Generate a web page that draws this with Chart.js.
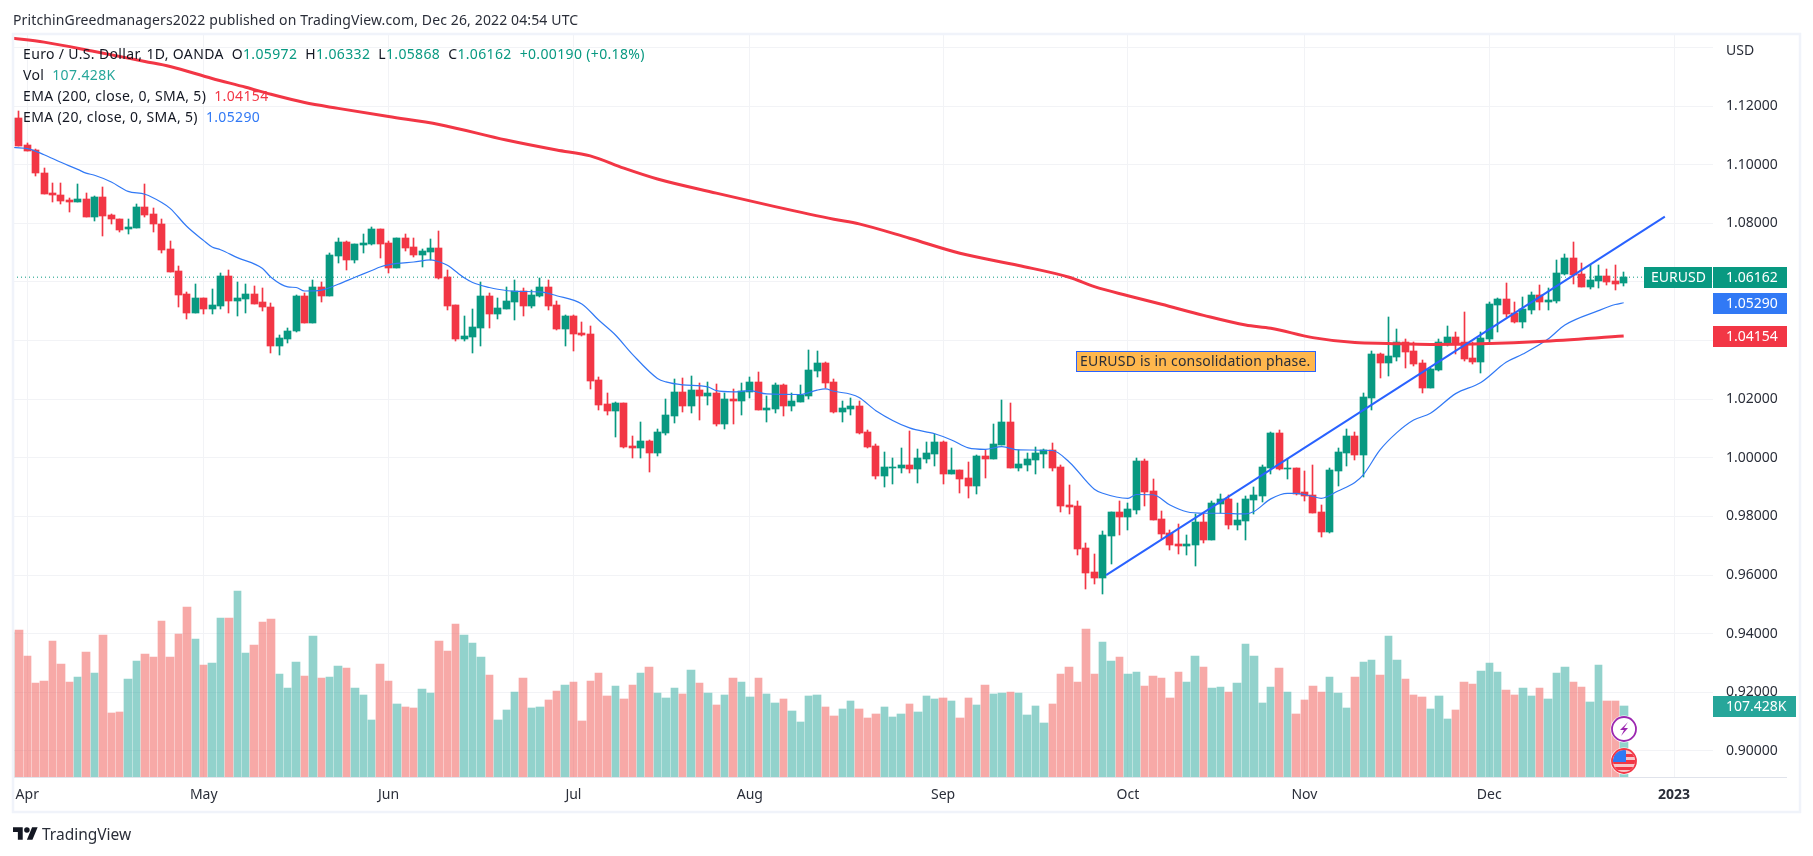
<!DOCTYPE html>
<html>
<head>
<meta charset="utf-8">
<title>EURUSD</title>
<script src="https://cdn.jsdelivr.net/npm/chart.js@4/dist/chart.umd.min.js"></script>
<style>
  html, body { margin: 0; padding: 0; background: #fff; width: 1813px; height: 856px; overflow: hidden; }
  body { font-family: "Noto Sans", sans-serif; font-size: 14px; color: #131722; position: relative; }
  #grafico { position: absolute; left: 0; top: 0; }
  .linha { position: absolute; white-space: nowrap; height: 21px; line-height: 21px; letter-spacing: 0.35px; }
  #titulo { left: 13px; top: 9px; color: #2a2e39; letter-spacing: 0.13px; }
  #rodape { left: 42px; top: 824px; font-size: 15.5px; color: #2a2e39; letter-spacing: 0; }
  #logo { position: absolute; left: 13px; top: 827px; }
  .verde { color: #089981; }
  .vol { color: #26a69a; }
  .vermelho { color: #f23645; }
  .azul { color: #3179f5; }
  .gap { margin-left: 8px; }
</style>
</head>
<body>
<canvas id="grafico" width="1813" height="856"></canvas>
<div class="linha" id="titulo">PritchinGreedmanagers2022 published on TradingView.com, Dec 26, 2022 04:54 UTC</div>
<div class="linha" style="left:23px;top:43px">Euro / U.S. Dollar, 1D, OANDA<span class="gap">O</span><span class="verde">1.05972</span><span class="gap">H</span><span class="verde">1.06332</span><span class="gap">L</span><span class="verde">1.05868</span><span class="gap">C</span><span class="verde">1.06162</span><span class="verde gap">+0.00190 (+0.18%)</span></div>
<div class="linha" style="left:23px;top:64px">Vol<span class="vol gap">107.428K</span></div>
<div class="linha" style="left:23px;top:85px">EMA (200, close, 0, SMA, 5)<span class="vermelho gap">1.04154</span></div>
<div class="linha" style="left:23px;top:106px">EMA (20, close, 0, SMA, 5)<span class="azul gap">1.05290</span></div>
<svg id="logo" width="25" height="13" viewBox="0 4 36 18"><path fill="#131722" d="M14 22H7V11H0V4h14v18zM28 22h-8l7.5-18h8L28 22z"/><circle fill="#131722" cx="20" cy="8" r="4"/></svg>
<div class="linha" id="rodape">TradingView</div>

<script>
const opens = [
  1.1082,1.1158,1.1066,1.1050,1.0972,1.0904,1.0897,1.0880,1.0874,1.0883,
  1.0823,1.0890,1.0827,1.0814,1.0779,1.0785,1.0856,1.0832,1.0798,1.0713,
  1.0638,1.0559,1.0495,1.0545,1.0506,1.0519,1.0621,1.0536,1.0543,1.0559,
  1.0530,1.0515,1.0380,1.0407,1.0431,1.0552,1.0461,1.0583,1.0553,1.0690,
  1.0737,1.0676,1.0726,1.0731,1.0781,1.0733,1.0649,1.0750,1.0719,1.0692,
  1.0702,1.0716,1.0617,1.0522,1.0406,1.0412,1.0443,1.0552,1.0491,1.0508,
  1.0532,1.0569,1.0518,1.0552,1.0583,1.0522,1.0440,1.0484,1.0426,1.0423,
  1.0266,1.0184,1.0160,1.0187,1.0041,1.0034,1.0058,1.0017,1.0085,1.0143,
  1.0225,1.0177,1.0232,1.0211,1.0221,1.0116,1.0201,1.0194,1.0225,1.0259,
  1.0163,1.0167,1.0249,1.0177,1.0191,1.0211,1.0297,1.0324,1.0259,1.0157,
  1.0167,1.0177,1.0088,1.0041,0.9938,0.9966,0.9966,0.9976,0.9962,0.9996,
  1.0013,1.0054,0.9945,0.9959,0.9932,0.9904,1.0007,0.9996,1.0044,1.0123,
  0.9966,0.9976,0.9993,1.0013,1.0027,0.9969,0.9839,0.9836,0.9693,0.9611,
  0.9590,0.9734,0.9816,0.9798,0.9822,0.9990,0.9887,0.9792,0.9744,0.9706,
  0.9700,0.9703,0.9781,0.9720,0.9843,0.9860,0.9771,0.9785,0.9857,0.9870,
  0.9966,1.0085,0.9962,0.9966,0.9884,0.9874,0.9816,0.9747,0.9955,1.0017,
  1.0075,1.0010,1.0204,1.0354,1.0324,1.0344,1.0395,1.0365,1.0324,1.0238,
  1.0300,1.0389,1.0412,1.0395,1.0341,1.0327,1.0406,1.0522,1.0542,1.0494,
  1.0464,1.0505,1.0556,1.0533,1.0535,1.0627,1.0682,1.0627,1.0583,1.0604,
  1.0621,1.0604,1.05972
];
const closes = [
  1.1158,1.1065,1.1048,1.0970,1.0901,1.0895,1.0876,1.0873,1.0883,1.0823,
  1.0890,1.0826,1.0813,1.0777,1.0788,1.0856,1.0830,1.0796,1.0710,1.0635,
  1.0557,1.0495,1.0545,1.0506,1.0522,1.0621,1.0536,1.0545,1.0559,1.0526,
  1.0513,1.0380,1.0409,1.0433,1.0552,1.0461,1.0583,1.0552,1.0692,1.0737,
  1.0676,1.0731,1.0733,1.0781,1.0731,1.0649,1.0750,1.0717,1.0693,1.0706,
  1.0716,1.0614,1.0518,1.0406,1.0416,1.0447,1.0552,1.0491,1.0511,1.0535,
  1.0569,1.0518,1.0556,1.0583,1.0518,1.0440,1.0484,1.0423,1.0419,1.0262,
  1.0181,1.0160,1.0187,1.0037,1.0034,1.0058,1.0017,1.0088,1.0146,1.0225,
  1.0177,1.0232,1.0211,1.0221,1.0116,1.0201,1.0194,1.0228,1.0259,1.0163,
  1.0170,1.0249,1.0177,1.0194,1.0215,1.0300,1.0324,1.0256,1.0157,1.0170,
  1.0177,1.0085,1.0037,0.9938,0.9969,0.9969,0.9976,0.9962,1.0000,1.0017,
  1.0054,0.9945,0.9959,0.9928,0.9904,1.0007,0.9996,1.0047,1.0123,0.9966,
  0.9979,0.9996,1.0017,1.0027,0.9966,0.9836,0.9833,0.9689,0.9607,0.9590,
  0.9737,0.9816,0.9798,0.9826,0.9990,0.9884,0.9788,0.9741,0.9703,0.9700,
  0.9706,0.9781,0.9720,0.9846,0.9860,0.9771,0.9788,0.9860,0.9874,0.9969,
  1.0085,0.9962,0.9966,0.9877,0.9870,0.9812,0.9747,0.9959,1.0020,1.0075,
  1.0010,1.0208,1.0354,1.0324,1.0348,1.0395,1.0361,1.0320,1.0238,1.0303,
  1.0395,1.0412,1.0389,1.0337,1.0327,1.0409,1.0525,1.0542,1.0491,1.0464,
  1.0508,1.0556,1.0532,1.0539,1.0631,1.0682,1.0624,1.0583,1.0607,1.0621,
  1.0600,1.0593,1.06162
];
const highs = [
  1.1175,1.1183,1.1073,1.1054,1.0988,1.0938,1.0938,1.0888,1.0934,1.0904,
  1.0892,1.0924,1.0831,1.0816,1.0815,1.0866,1.0934,1.0851,1.0815,1.0740,
  1.0655,1.0564,1.0593,1.0545,1.0576,1.0630,1.0640,1.0600,1.0593,1.0586,
  1.0580,1.0528,1.0419,1.0442,1.0556,1.0561,1.0606,1.0600,1.0697,1.0750,
  1.0740,1.0731,1.0764,1.0787,1.0781,1.0740,1.0750,1.0764,1.0750,1.0713,
  1.0747,1.0774,1.0641,1.0522,1.0484,1.0508,1.0599,1.0563,1.0545,1.0583,
  1.0607,1.0580,1.0573,1.0614,1.0607,1.0535,1.0488,1.0488,1.0464,1.0450,
  1.0276,1.0221,1.0191,1.0187,1.0075,1.0123,1.0061,1.0099,1.0201,1.0269,
  1.0273,1.0279,1.0256,1.0259,1.0252,1.0221,1.0235,1.0256,1.0276,1.0293,
  1.0211,1.0256,1.0252,1.0221,1.0249,1.0368,1.0365,1.0327,1.0269,1.0194,
  1.0204,1.0194,1.0095,1.0047,1.0020,1.0000,1.0034,1.0092,1.0031,1.0054,
  1.0082,1.0058,1.0034,0.9959,0.9986,1.0010,1.0027,1.0116,1.0198,1.0187,
  1.0027,1.0017,1.0037,1.0031,1.0051,0.9976,0.9908,0.9853,0.9710,0.9672,
  0.9751,0.9816,0.9853,0.9846,1.0000,0.9996,0.9928,0.9819,0.9754,0.9775,
  0.9737,0.9809,0.9809,0.9853,0.9877,0.9874,0.9846,0.9870,0.9901,0.9976,
  1.0088,1.0095,0.9996,0.9966,0.9955,0.9976,0.9839,0.9966,1.0034,1.0099,
  1.0088,1.0221,1.0365,1.0358,1.0481,1.0440,1.0406,1.0395,1.0334,1.0307,
  1.0406,1.0450,1.0430,1.0498,1.0395,1.0430,1.0532,1.0545,1.0597,1.0532,
  1.0549,1.0566,1.0590,1.0580,1.0675,1.0696,1.0737,1.0665,1.0658,1.0658,
  1.0644,1.0658,1.06332
];
const lows = [
  1.1075,1.1062,1.1045,1.0963,1.0900,1.0874,1.0865,1.0837,1.0873,1.0823,
  1.0809,1.0758,1.0799,1.0772,1.0762,1.0784,1.0823,1.0772,1.0697,1.0634,
  1.0516,1.0472,1.0493,1.0492,1.0492,1.0506,1.0495,1.0485,1.0495,1.0526,
  1.0502,1.0356,1.0352,1.0390,1.0430,1.0461,1.0461,1.0533,1.0552,1.0663,
  1.0642,1.0663,1.0697,1.0727,1.0680,1.0629,1.0646,1.0704,1.0686,1.0651,
  1.0675,1.0610,1.0505,1.0399,1.0399,1.0358,1.0382,1.0443,1.0474,1.0508,
  1.0470,1.0484,1.0511,1.0549,1.0505,1.0436,1.0382,1.0365,1.0416,1.0235,
  1.0163,1.0146,1.0071,1.0034,1.0000,1.0000,0.9952,1.0007,1.0078,1.0119,
  1.0157,1.0153,1.0129,1.0181,1.0109,1.0099,1.0116,1.0146,1.0204,1.0163,
  1.0123,1.0153,1.0143,1.0160,1.0191,1.0201,1.0276,1.0238,1.0153,1.0123,
  1.0146,1.0082,1.0034,0.9928,0.9901,0.9911,0.9949,0.9949,0.9914,0.9983,
  0.9972,0.9911,0.9945,0.9880,0.9863,0.9877,0.9932,0.9996,1.0044,0.9966,
  0.9955,0.9955,0.9945,0.9966,0.9955,0.9816,0.9809,0.9669,0.9553,0.9570,
  0.9536,0.9638,0.9737,0.9754,0.9809,0.9836,0.9788,0.9723,0.9686,0.9672,
  0.9669,0.9631,0.9710,0.9720,0.9812,0.9758,0.9754,0.9720,0.9809,0.9850,
  0.9945,0.9959,0.9928,0.9874,0.9853,0.9812,0.9730,0.9744,0.9904,0.9972,
  0.9993,0.9935,1.0163,1.0273,1.0279,1.0331,1.0307,1.0314,1.0221,1.0238,
  1.0297,1.0382,1.0354,1.0331,1.0320,1.0290,1.0392,1.0430,1.0481,1.0460,
  1.0443,1.0491,1.0505,1.0505,1.0528,1.0624,1.0593,1.0583,1.0576,1.0580,
  1.0590,1.0573,1.05868
];
// volume in thousands
const volumes = [
  219.0,221.5,182.3,141.6,144.7,204.9,170.3,143.2,150.7,188.4,
  156.7,214.0,96.4,97.9,147.7,174.8,185.3,180.8,235.1,180.8,
  215.5,256.2,208.0,168.8,171.8,239.6,239.6,280.3,186.9,198.9,
  233.6,238.1,155.2,134.1,173.3,152.2,212.5,149.2,150.7,167.3,
  164.3,134.1,123.6,85.9,170.3,144.7,110.0,105.5,104.0,132.6,
  126.6,204.9,189.9,230.6,214.0,201.9,180.8,153.7,85.9,101.0,
  128.1,149.2,104.0,105.5,116.0,129.6,138.6,143.2,84.4,144.7,
  156.7,122.1,137.1,117.5,138.6,156.7,165.8,126.6,119.0,134.1,
  125.1,161.2,141.6,126.6,108.5,123.6,149.2,143.2,120.6,149.2,
  125.1,111.5,117.5,99.5,82.9,122.1,123.6,105.5,91.9,102.5,
  114.5,102.5,88.9,94.9,105.5,90.4,94.9,110.0,97.9,122.1,
  117.5,119.0,114.5,88.9,119.0,108.5,138.6,125.1,126.6,128.1,
  126.6,93.4,107.0,81.4,110.0,155.2,165.8,143.2,223.0,155.2,
  203.4,174.8,180.8,155.2,158.2,137.1,152.2,149.2,119.0,158.2,
  143.2,182.3,165.8,134.1,135.6,128.1,141.6,200.4,182.3,111.5,
  135.6,164.3,128.1,94.9,116.0,137.1,128.1,150.7,126.6,104.0,
  150.7,173.3,176.3,153.7,212.5,176.3,147.7,123.6,120.6,102.5,
  122.1,87.4,101.0,143.2,140.1,159.7,171.8,158.2,131.1,123.6,
  134.1,122.1,134.1,117.5,156.7,165.8,143.2,135.6,113.0,168.8,
  114.5,114.5,107.428
];

// bar numbers where the moving averages were read
const ema20Bars = [0,2,4,6,8,9,10,12,14,16,18,19,21,23,24,25,27,30,31,33,34,35,37,39,41,43,44,46,48,50,51,52,54,55,57,58,60,63,65,68,70,72,74,77,78,80,83,84,86,88,90,94,96,97,98,100,101,103,107,110,112,114,116,118,120,124,126,129,130,133,134,136,138,140,142,144,147,148,150,152,153,155,156,158,160,161,163,165,167,169,172,175,178,180,183,185,189,191,192];
const ema20Values = [1.1059,1.1055,1.1034,1.1008,1.0984,1.0971,1.0964,1.0941,1.0909,1.0899,1.0871,1.0851,1.0789,1.0741,1.0719,1.0710,1.0683,1.0646,1.0616,1.0583,1.0581,1.0569,1.0572,1.0592,1.0616,1.0639,1.0651,1.0663,1.0668,1.0675,1.0669,1.0657,1.0614,1.0598,1.0581,1.0575,1.0568,1.0566,1.0553,1.0525,1.0470,1.0419,1.0354,1.0271,1.0259,1.0249,1.0242,1.0229,1.0225,1.0229,1.0218,1.0216,1.0231,1.0235,1.0227,1.0217,1.0206,1.0161,1.0102,1.0082,1.0061,1.0034,1.0029,1.0038,1.0027,1.0025,0.9986,0.9893,0.9879,0.9862,0.9875,0.9874,0.9839,0.9816,0.9811,0.9811,0.9809,0.9817,0.9860,0.9879,0.9879,0.9868,0.9862,0.9887,0.9916,0.9942,1.0027,1.0086,1.0129,1.0152,1.0219,1.0257,1.0326,1.0354,1.0405,1.0453,1.0502,1.0523,1.0529];
const ema200Bars = [0,4,10,16,19,24,28,31,35,39,45,51,59,65,69,73,77,84,91,98,101,107,113,120,126,129,133,137,142,147,150,155,160,164,169,176,182,192];
const ema200Values = [1.1432,1.1418,1.1386,1.1352,1.1335,1.1294,1.1264,1.1240,1.1212,1.1192,1.1164,1.1137,1.1084,1.1050,1.1030,1.0988,1.0951,1.0903,1.0857,1.0814,1.0798,1.0749,1.0698,1.0656,1.0616,1.0584,1.0553,1.0524,1.0486,1.0453,1.0442,1.0410,1.0393,1.0390,1.0387,1.0390,1.0397,1.04154];

const trendBars = [130.4, 196.9];
const trendValues = [0.9600, 1.0823];

const monthBars = [2,23,45,67,88,111,133,154,176,198];
const monthLabels = ['Apr','May','Jun','Jul','Aug','Sep','Oct','Nov','Dec','2023'];
const priceTicks = [0.90,0.92,0.94,0.96,0.98,1.00,1.02,1.04,1.06,1.08,1.10,1.12,1.14];
const priceLabels = ['0.90000','0.92000','0.94000','0.96000','0.98000','1.00000','1.02000','1.04000','1.06000','1.08000','1.10000','1.12000',''];

const lastPrice = 1.06162;
const lastEma20 = 1.05290;
const lastEma200 = 1.04154;
const lastVolume = 107.428;
const noteText = 'EURUSD is in consolidation phase.';
const noteBar = 126.8;
const notePrice = 1.0330;

const green = '#089981';
const red = '#f23645';
const blue = '#3179f5';
const gridColor = '#f2f3f6';
const frameColor = '#f0f3fa';
const textColor = '#2a2e39';
const fontName = '"Noto Sans", sans-serif';

const xMin = 0.3;
const xMax = 202.63;

const bars = opens.map((o, i) => i);
const candleColor = ctx => closes[ctx.dataIndex] >= opens[ctx.dataIndex] ? green : red;

// puts the bars on whole pixels, like the original has them
const snapBars = {
  id: 'snapBars',
  afterDatasetsUpdate(chart) {
    chart.data.datasets.forEach((ds, d) => {
      if (ds.type !== 'bar') return;
      const items = chart.getDatasetMeta(d).data;
      const lefts = items.map(el => Math.round(el.x - 3.7));
      items.forEach((el, i) => {
        const top = Math.round(Math.min(el.y, el.base));
        let bottom = Math.round(Math.max(el.y, el.base));
        if (bottom === top) bottom = top + 1;
        el.y = top;
        el.base = bottom;
        el.height = bottom - top;
        if (ds.label === 'Vol') {
          const next = i + 1 < items.length ? lefts[i + 1] : lefts[i] + 9;
          el.width = next - lefts[i] - 1;
          el.x = lefts[i] + el.width / 2;
        } else {
          el.x = Math.floor(el.x) + 0.5;
        }
      });
    });
  }
};

function drawTag(ctx, text, left, right, y, color, textLeft) {
  ctx.fillStyle = color;
  ctx.fillRect(left, Math.round(y) - 10, right - left, 21);
  ctx.fillStyle = '#fff';
  ctx.font = '14px ' + fontName;
  ctx.textAlign = 'left';
  ctx.textBaseline = 'middle';
  ctx.fillText(text, left + textLeft, Math.round(y) + 1);
}

function drawIcons(ctx, x) {
  // lightning mark
  ctx.beginPath();
  ctx.arc(x, 729, 13.5, 0, Math.PI * 2);
  ctx.fillStyle = '#fff';
  ctx.fill();
  ctx.beginPath();
  ctx.arc(x, 729, 12, 0, Math.PI * 2);
  ctx.strokeStyle = '#9c27b0';
  ctx.lineWidth = 1.8;
  ctx.stroke();
  ctx.beginPath();
  ctx.moveTo(x + 4, 722);
  ctx.lineTo(x - 4, 730);
  ctx.lineTo(x, 730);
  ctx.lineTo(x - 3, 736);
  ctx.lineTo(x + 4, 728);
  ctx.lineTo(x, 728);
  ctx.closePath();
  ctx.fillStyle = '#9c27b0';
  ctx.fill();

  // US flag
  ctx.beginPath();
  ctx.arc(x, 761, 13.5, 0, Math.PI * 2);
  ctx.fillStyle = '#fff';
  ctx.fill();
  ctx.save();
  ctx.beginPath();
  ctx.arc(x, 761, 11, 0, Math.PI * 2);
  ctx.clip();
  ctx.fillStyle = '#f7c5c9';
  ctx.fillRect(x - 11, 750, 22, 22);
  ctx.fillStyle = red;
  ctx.fillRect(x - 11, 754, 22, 3);
  ctx.fillRect(x - 11, 760, 22, 4);
  ctx.fillRect(x - 11, 767, 22, 3);
  ctx.fillStyle = '#3179f5';
  ctx.fillRect(x - 11, 750, 13, 12);
  ctx.restore();
  ctx.beginPath();
  ctx.arc(x, 761, 12, 0, Math.PI * 2);
  ctx.strokeStyle = red;
  ctx.lineWidth = 1.8;
  ctx.stroke();
}

const overlay = {
  id: 'overlay',
  afterDraw(chart) {
    const { ctx, chartArea, scales } = chart;
    ctx.save();

    // note on the chart
    const noteX = Math.round(scales.x.getPixelForValue(noteBar));
    const noteY = Math.round(scales.y.getPixelForValue(notePrice));
    ctx.font = '14px ' + fontName;
    ctx.letterSpacing = '0.2px';
    const noteW = Math.round(ctx.measureText(noteText).width) + 8;
    ctx.fillStyle = '#ffb74d';
    ctx.fillRect(noteX + 0.5, noteY - 10 + 0.5, noteW, 20);
    ctx.strokeStyle = '#2962ff';
    ctx.lineWidth = 1;
    ctx.strokeRect(noteX + 0.5, noteY - 10 + 0.5, noteW, 20);
    ctx.fillStyle = textColor;
    ctx.textAlign = 'left';
    ctx.textBaseline = 'middle';
    ctx.fillText(noteText, noteX + 4, noteY + 1);
    ctx.letterSpacing = '0px';

    // currency name above the price axis
    ctx.fillStyle = textColor;
    ctx.fillText('USD', chartArea.right + 13, 51);

    // bottom line and frame
    ctx.fillStyle = '#e0e3eb';
    ctx.fillRect(chartArea.left, chartArea.bottom, 1787 - chartArea.left, 1);
    ctx.strokeStyle = frameColor;
    ctx.lineWidth = 2.5;
    ctx.strokeRect(13, 34, 1787, 778);

    drawIcons(ctx, Math.round(scales.x.getPixelForValue(bars[bars.length - 1])));

    // price tags
    const right = chartArea.right;
    const lastY = scales.y.getPixelForValue(lastPrice);
    drawTag(ctx, 'EURUSD', right - 69, right - 1, lastY, green, 7);
    drawTag(ctx, lastPrice.toFixed(5), right, right + 74, lastY, green, 13);
    drawTag(ctx, lastEma20.toFixed(5), right, right + 74, scales.y.getPixelForValue(lastEma20), blue, 13);
    drawTag(ctx, lastEma200.toFixed(5), right, right + 74, scales.y.getPixelForValue(lastEma200), red, 13);
    drawTag(ctx, lastVolume + 'K', right, right + 83, scales.yVol.getPixelForValue(lastVolume), '#26a69a', 13);
    ctx.restore();
  }
};

new Chart(document.getElementById('grafico'), {
  type: 'bar',
  data: {
    datasets: [
      {
        type: 'bar', label: 'Vol', yAxisID: 'yVol', order: 6, grouped: false, barThickness: 7,
        data: bars.map((b, i) => ({ x: b, y: volumes[i] })),
        backgroundColor: ctx => closes[ctx.dataIndex] >= opens[ctx.dataIndex] ? 'rgba(38,166,154,0.5)' : 'rgba(239,83,80,0.5)'
      },
      {
        type: 'line', label: 'Last', yAxisID: 'y', order: 5,
        data: [{ x: xMin, y: lastPrice }, { x: xMax, y: lastPrice }],
        borderColor: green, borderWidth: 1, borderDash: [1, 3], pointRadius: 0
      },
      {
        type: 'bar', label: 'Wick', yAxisID: 'y', order: 4, grouped: false, barThickness: 1,
        data: bars.map((b, i) => ({ x: b, y: [lows[i], highs[i]] })),
        backgroundColor: candleColor
      },
      {
        type: 'bar', label: 'Body', yAxisID: 'y', order: 3, grouped: false, barThickness: 7,
        data: bars.map((b, i) => ({ x: b, y: [opens[i], closes[i]] })),
        backgroundColor: candleColor
      },
      {
        type: 'line', label: 'EMA 200', yAxisID: 'y', order: 2,
        data: ema200Bars.map((b, i) => ({ x: b, y: ema200Values[i] })),
        borderColor: red, borderWidth: 3, pointRadius: 0, cubicInterpolationMode: 'monotone'
      },
      {
        type: 'line', label: 'EMA 20', yAxisID: 'y', order: 2,
        data: ema20Bars.map((b, i) => ({ x: b, y: ema20Values[i] })),
        borderColor: blue, borderWidth: 1.2, pointRadius: 0, cubicInterpolationMode: 'monotone'
      },
      {
        type: 'line', label: 'Trend', yAxisID: 'y', order: 1,
        data: trendBars.map((b, i) => ({ x: b, y: trendValues[i] })),
        borderColor: '#2962ff', borderWidth: 2, pointRadius: 0
      }
    ]
  },
  plugins: [snapBars, overlay],
  options: {
    responsive: false,
    animation: false,
    layout: { padding: { left: 13, top: 35, right: 13, bottom: 44 } },
    plugins: { legend: { display: false }, tooltip: { enabled: false } },
    scales: {
      x: {
        type: 'linear',
        min: xMin,
        max: xMax,
        offset: false,
        border: { display: false },
        grid: { color: gridColor, offset: false, drawTicks: false, tickLength: 0 },
        afterBuildTicks: axis => { axis.ticks = monthBars.map(v => ({ value: v })); },
        afterFit: axis => { axis.height = 35; },
        ticks: {
          autoSkip: false,
          maxRotation: 0,
          padding: 10,
          color: textColor,
          font: ctx => ({ family: fontName, size: 14, weight: ctx.index === 9 ? 'bold' : 'normal' }),
          callback: (value, index) => monthLabels[index]
        }
      },
      y: {
        position: 'right',
        min: 0.89113,
        max: 1.14423,
        border: { display: false },
        grid: { color: gridColor, drawTicks: false, tickLength: 0 },
        afterBuildTicks: axis => { axis.ticks = priceTicks.map(v => ({ value: v })); },
        afterFit: axis => { axis.width = 87; },
        ticks: {
          autoSkip: false,
          padding: 13,
          color: textColor,
          font: { family: fontName, size: 14 },
          callback: (value, index) => priceLabels[index]
        }
      },
      yVol: {
        display: false,
        min: 0,
        max: 1118
      }
    }
  }
});
</script>
</body>
</html>
